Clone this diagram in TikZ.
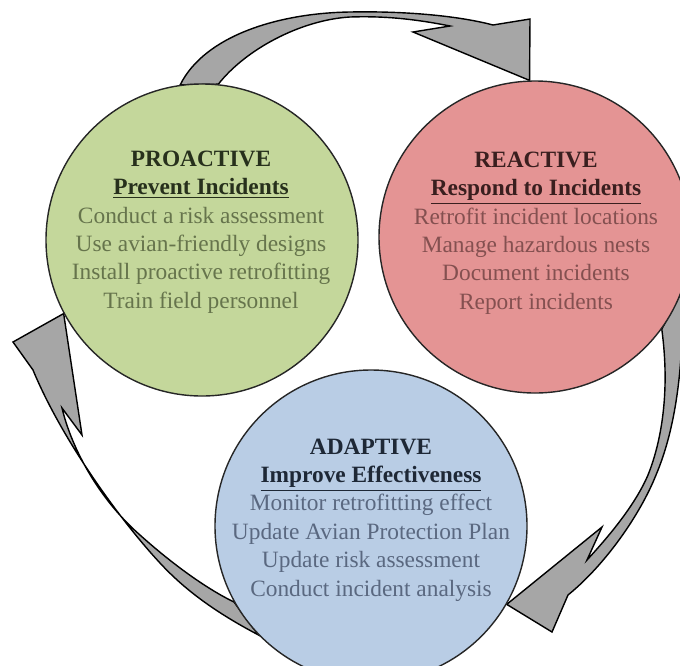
\documentclass[tikz,border=0pt]{standalone}
\usepackage{fontspec}
\setmainfont{Liberation Serif}
\usetikzlibrary{backgrounds}

\definecolor{proFill}{HTML}{C4D79B}
\definecolor{reaFill}{HTML}{E49494}
\definecolor{adaFill}{HTML}{B9CDE5}
\definecolor{proHead}{HTML}{27301C}
\definecolor{reaHead}{HTML}{3A1F1F}
\definecolor{adaHead}{HTML}{1E2836}
\definecolor{proBody}{HTML}{66744C}
\definecolor{reaBody}{HTML}{845050}
\definecolor{adaBody}{HTML}{5A6880}
\definecolor{cycGray}{HTML}{A6A6A6}

\begin{document}
\begin{tikzpicture}[
  phase/.style={circle,draw=black!85,line width=0.8pt,minimum size=6.24cm,inner sep=0pt},
  body/.style={align=center,font=\fontsize{13.3}{16.2}\selectfont,inner sep=0pt},
  cyc/.style={draw=black,line width=0.8pt,fill=cycGray,line join=miter}]
\useasboundingbox (0,0) rectangle (13.6,-13.3);

% the three phases
\node[phase,fill=proFill] (pro) at (4.04,-4.80) {};
\node[phase,fill=reaFill] (rea) at (10.70,-4.74) {};
\node[phase,fill=adaFill] (ada) at (7.42,-10.52) {};

\node[body,text=proBody] (pro-t) at (4.02,-4.64) {%
  \textcolor{proHead}{\textbf{PROACTIVE}}\\
  \textcolor{proHead}{\textbf{\underline{Prevent Incidents}}}\\
  Conduct a risk assessment\\ Use avian-friendly designs\\
  Install proactive retrofitting\\ Train field personnel};
\node[body,text=reaBody] (rea-t) at (10.72,-4.66) {%
  \textcolor{reaHead}{\textbf{REACTIVE}}\\
  \textcolor{reaHead}{\textbf{\underline{Respond to Incidents}}}\\
  Retrofit incident locations\\ Manage hazardous nests\\
  Document incidents\\ Report incidents};
\node[body,text=adaBody] (ada-t) at (7.42,-10.40) {%
  \textcolor{adaHead}{\textbf{ADAPTIVE}}\\
  \textcolor{adaHead}{\textbf{\underline{Improve Effectiveness}}}\\
  Monitor retrofitting effect\\ Update Avian Protection Plan\\
  Update risk assessment\\ Conduct incident analysis};

% curved block arrows, kept behind the circles
\begin{scope}[on background layer]
% proactive -> reactive
\draw[cyc] (pro.98) .. controls (4.10,-0.70) and (5.60,-0.26) .. (7.00,-0.24)
  .. controls (8.00,-0.22) and (9.10,-0.30) .. (9.86,-0.50) -- (10.60,-0.38)
  -- (rea.92) -- (8.26,-0.64) -- (9.00,-0.52)
  .. controls (8.20,-0.36) and (7.60,-0.32) .. (7.00,-0.34)
  .. controls (6.00,-0.40) and (4.90,-1.00) .. (pro.84) -- cycle;
% reactive -> adaptive
\draw[cyc] (rea.-20) .. controls (13.68,-7.40) and (13.50,-8.60) .. (13.12,-9.50)
  .. controls (12.80,-10.30) and (12.10,-11.30) .. (11.36,-11.90) -- (11.04,-12.64)
  -- (ada.-30) -- (12.04,-10.54) -- (11.74,-11.20)
  .. controls (12.20,-10.70) and (12.70,-10.10) .. (12.96,-9.50)
  .. controls (13.24,-8.80) and (13.40,-7.80) .. (rea.-36) -- cycle;
% adaptive -> proactive
\draw[cyc] (ada.224) .. controls (4.30,-12.24) and (3.70,-11.80) .. (3.20,-11.26)
  .. controls (2.40,-10.40) and (1.24,-8.80) .. (0.66,-7.40) -- (0.26,-6.84)
  -- (pro.208) -- (1.64,-8.70) -- (1.24,-8.16)
  .. controls (1.44,-9.00) and (2.00,-10.00) .. (2.80,-10.70)
  .. controls (3.40,-11.24) and (4.10,-11.76) .. (ada.209) -- cycle;
\end{scope}
\end{tikzpicture}
\end{document}
